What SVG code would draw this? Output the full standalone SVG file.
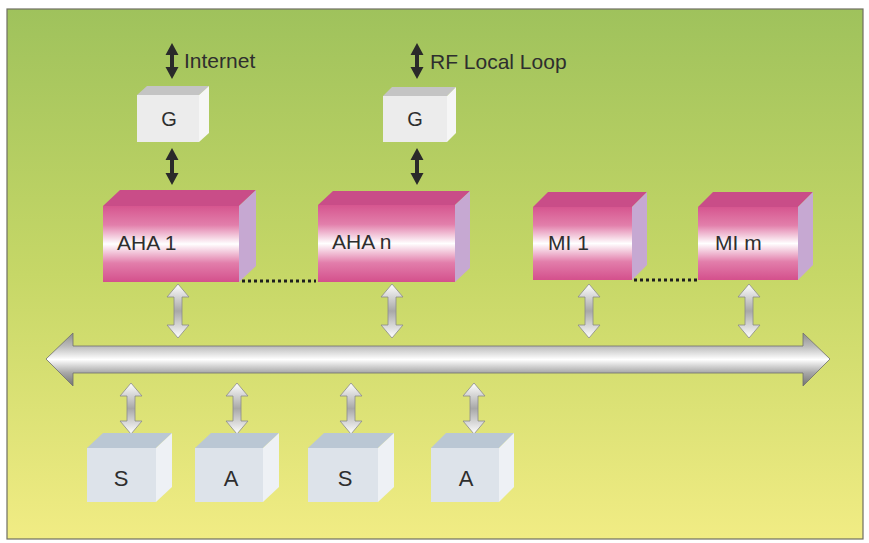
<svg xmlns="http://www.w3.org/2000/svg" width="869" height="543" viewBox="0 0 869 543">
<defs>
<linearGradient id="bg" x1="0" y1="0" x2="0" y2="1">
<stop offset="0" stop-color="#9fc25c"/>
<stop offset="0.5" stop-color="#c6d767"/>
<stop offset="1" stop-color="#f1ec84"/>
</linearGradient>
<linearGradient id="pinkFront" x1="0" y1="0" x2="0" y2="1">
<stop offset="0" stop-color="#d6568f"/>
<stop offset="0.25" stop-color="#e27fab"/>
<stop offset="0.5" stop-color="#ffffff"/>
<stop offset="0.75" stop-color="#e27eab"/>
<stop offset="1" stop-color="#d4508c"/>
</linearGradient>
<linearGradient id="busGrad" x1="0" y1="0" x2="0" y2="1">
<stop offset="0" stop-color="#8c8c8c"/>
<stop offset="0.25" stop-color="#bcbcbc"/>
<stop offset="0.5" stop-color="#ffffff"/>
<stop offset="0.75" stop-color="#a8a8a8"/>
<stop offset="1" stop-color="#727272"/>
</linearGradient>
<linearGradient id="linkGrad" x1="0" y1="0" x2="0" y2="1">
<stop offset="0" stop-color="#ffffff"/>
<stop offset="0.5" stop-color="#a8a8a8"/>
<stop offset="1" stop-color="#ffffff"/>
</linearGradient>
</defs>
<style>
.lbl{font-family:"Liberation Sans",Arial,sans-serif;fill:#2e2e2e;}
.pf{fill:url(#pinkFront);}
.pt{fill:#c94d88;}
.ps{fill:#c6a8d2;}
.gf{fill:#ececec;}
.gt{fill:#c4c4c4;}
.gs{fill:#f6f6f6;}
.bf{fill:#dde3ea;}
.bt{fill:#bac7d4;}
.bs{fill:#eef1f5;}
.dark{fill:#2a2a2a;}
.link{fill:url(#linkGrad);stroke:#8a8a8a;stroke-width:0.8;}
.dots{stroke:#1e1e1e;stroke-width:3;stroke-dasharray:3 3;fill:none;}
</style>
<rect x="0" y="0" width="869" height="543" fill="#ffffff"/>
<rect x="7" y="9" width="856" height="530" fill="url(#bg)" stroke="#6f6f62" stroke-width="1.2"/>

<g id="connectors">
<polygon class="dark" points="172,43 178.5,55 174,55 174,67 178.5,67 172,79 165.5,67 170,67 170,55 165.5,55"/>
<polygon class="dark" points="172,148 178.5,160 174,160 174,173 178.5,173 172,185 165.5,173 170,173 170,160 165.5,160"/>
<polygon class="dark" points="417,43 423.5,55 419,55 419,67 423.5,67 417,79 410.5,67 415,67 415,55 410.5,55"/>
<polygon class="dark" points="417,148 423.5,160 419,160 419,173 423.5,173 417,185 410.5,173 415,173 415,160 410.5,160"/>
<line class="dots" x1="242" y1="281" x2="316" y2="281"/>
<line class="dots" x1="634" y1="280" x2="697" y2="280"/>
<polygon fill="url(#busGrad)" stroke="#6e6e6e" stroke-width="0.8" points="46,359 73,333 73,346 803,346 803,333 830,359 803,386 803,373 73,373 73,386"/>
<g>
<polygon class="link" points="178,284 189,297 182,297 182,325 189,325 178,338 167,325 174,325 174,297 167,297"/>
<polygon class="link" points="392,284 403,297 396,297 396,325 403,325 392,338 381,325 388,325 388,297 381,297"/>
<polygon class="link" points="589,284 600,297 593,297 593,325 600,325 589,338 578,325 585,325 585,297 578,297"/>
<polygon class="link" points="749,284 760,297 753,297 753,325 760,325 749,338 738,325 745,325 745,297 738,297"/>
</g>
<g>
<polygon class="link" points="131,383 142,396 135,396 135,421 142,421 131,434 120,421 127,421 127,396 120,396"/>
<polygon class="link" points="237,383 248,396 241,396 241,421 248,421 237,434 226,421 233,421 233,396 226,396"/>
<polygon class="link" points="351,383 362,396 355,396 355,421 362,421 351,434 340,421 347,421 347,396 340,396"/>
<polygon class="link" points="474,383 485,396 478,396 478,421 485,421 474,434 463,421 470,421 470,396 463,396"/>
</g>
</g>

<text class="lbl" x="184" y="68" font-size="21">Internet</text>
<text class="lbl" x="430" y="69" font-size="21">RF Local Loop</text>

<g id="G1">
<polygon class="gt" points="137,95 147,86 209,86 199,95"/>
<polygon class="gs" points="199,95 209,86 209,133 199,142"/>
<rect class="gf" x="137" y="95" width="62" height="47"/>
<text class="lbl" x="169" y="126" font-size="20" text-anchor="middle">G</text>
</g>
<g id="G2">
<polygon class="gt" points="383,96 392,87 456,87 447,96"/>
<polygon class="gs" points="447,96 456,87 456,133 447,142"/>
<rect class="gf" x="383" y="96" width="64" height="46"/>
<text class="lbl" x="415" y="126" font-size="20" text-anchor="middle">G</text>
</g>

<g id="AHA1">
<polygon class="pt" points="103,206 120,190 256,190 239,206"/>
<polygon class="ps" points="239,206 256,190 256,266 239,282"/>
<rect class="pf" x="103" y="206" width="136" height="76"/>
<text class="lbl" x="117" y="250" font-size="21">AHA 1</text>
</g>
<g id="AHAn">
<polygon class="pt" points="318,205 333,191 470,191 455,205"/>
<polygon class="ps" points="455,205 470,191 470,268 455,282"/>
<rect class="pf" x="318" y="205" width="137" height="77"/>
<text class="lbl" x="332" y="249" font-size="21">AHA n</text>
</g>
<g id="MI1">
<polygon class="pt" points="533,207 548,192 647,192 632,207"/>
<polygon class="ps" points="632,207 647,192 647,265 632,280"/>
<rect class="pf" x="533" y="207" width="99" height="73"/>
<text class="lbl" x="548" y="250" font-size="21">MI 1</text>
</g>
<g id="MIm">
<polygon class="pt" points="698,207 713,192 813,192 798,207"/>
<polygon class="ps" points="798,207 813,192 813,265 798,280"/>
<rect class="pf" x="698" y="207" width="100" height="73"/>
<text class="lbl" x="715" y="250" font-size="21">MI m</text>
</g>

<g id="S1">
<polygon class="bt" points="87,448 103,433 172,433 156,448"/>
<polygon class="bs" points="156,448 172,433 172,487 156,502"/>
<rect class="bf" x="87" y="448" width="69" height="54"/>
<text class="lbl" x="121" y="486" font-size="22" text-anchor="middle">S</text>
</g>
<g id="A1">
<polygon class="bt" points="195,448 211,433 279,433 263,448"/>
<polygon class="bs" points="263,448 279,433 279,487 263,502"/>
<rect class="bf" x="195" y="448" width="68" height="54"/>
<text class="lbl" x="231" y="486" font-size="22" text-anchor="middle">A</text>
</g>
<g id="S2">
<polygon class="bt" points="308,448 324,433 394,433 378,448"/>
<polygon class="bs" points="378,448 394,433 394,487 378,502"/>
<rect class="bf" x="308" y="448" width="70" height="54"/>
<text class="lbl" x="345" y="486" font-size="22" text-anchor="middle">S</text>
</g>
<g id="A2">
<polygon class="bt" points="431,448 446,433 514,433 499,448"/>
<polygon class="bs" points="499,448 514,433 514,487 499,502"/>
<rect class="bf" x="431" y="448" width="68" height="54"/>
<text class="lbl" x="466" y="486" font-size="22" text-anchor="middle">A</text>
</g>
</svg>
